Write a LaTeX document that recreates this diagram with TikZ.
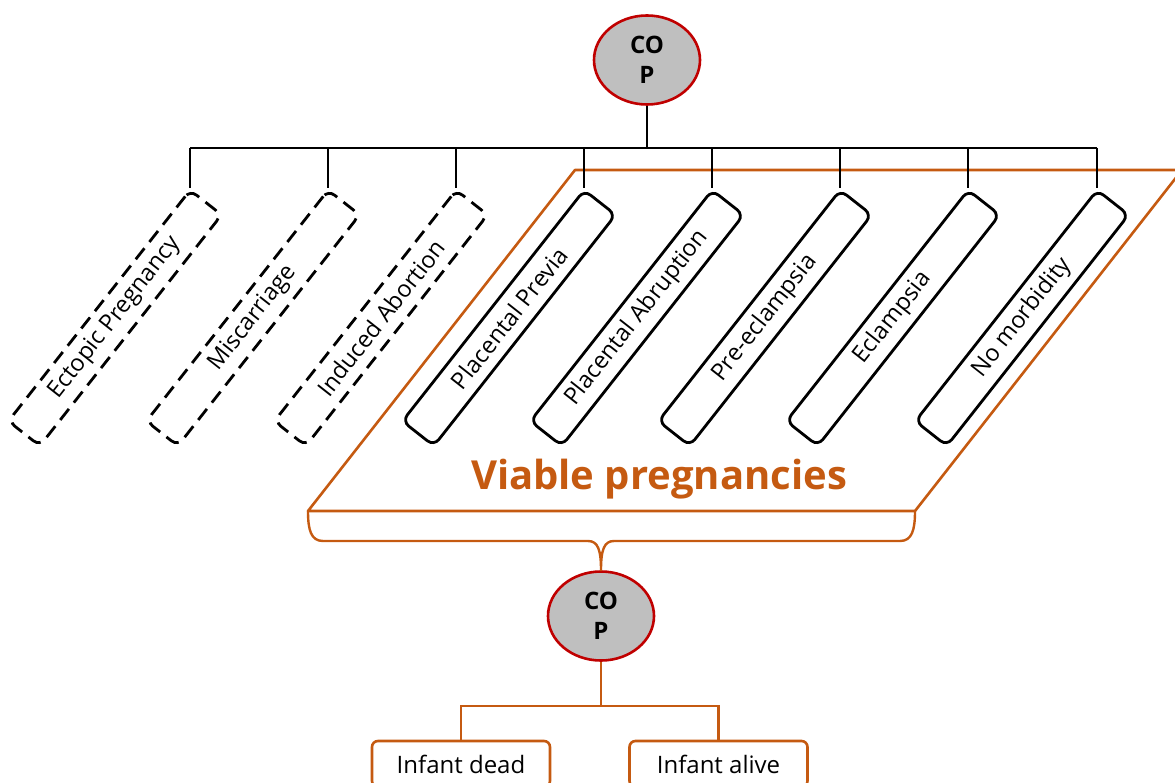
\documentclass[tikz,border=0pt]{standalone}
\usepackage{fontspec}
\setmainfont{Open Sans}
\usetikzlibrary{shapes.geometric}
\definecolor{copred}{HTML}{C00000}
\definecolor{copgray}{HTML}{BFBFBF}
\definecolor{vorange}{HTML}{C55A11}
\begin{document}
\begin{tikzpicture}[x=1pt,y=-1pt,
  cop/.style={ellipse, draw=copred, line width=2.6pt, fill=copgray, minimum width=106pt, minimum height=89pt, inner sep=0pt, font=\fontsize{24}{30}\selectfont\bfseries, align=center},
  catbox/.style={rectangle, draw=black, rounded corners=8pt, line width=2.8pt, minimum width=294pt, minimum height=40pt, rotate=51.8, font=\fontsize{23.5}{26}\selectfont, inner sep=0pt},
  dashbox/.style={catbox, dash pattern=on 14pt off 8pt},
  blk/.style={draw=black, line width=2.8pt},
  org/.style={draw=vorange, line width=2.6pt},
  outbox/.style={rectangle, draw=vorange, line width=2.6pt, rounded corners=6pt, minimum width=178pt, minimum height=46pt, font=\fontsize{24}{26}\selectfont, inner sep=0pt}
]
\useasboundingbox (0,0) rectangle (1175,783);
\clip (0,0) rectangle (1175,783);
% viable pregnancies parallelogram
\coordinate (pTL) at (575,170);
\coordinate (pTR) at (1182,170);
\coordinate (pBR) at (915,511);
\coordinate (pBL) at (308,511);
\draw[org, line join=round] (pTL) -- (pTR) -- (pBR) -- (pBL) -- cycle;
\node[text=vorange, font=\fontsize{40}{42}\selectfont\bfseries, anchor=base] (viable) at (659,489) {Viable pregnancies};
% top COP
\node[cop] (cop1) at (647,60) {CO\\P};
\coordinate (bus) at (647,148);
% category boxes
\node[dashbox] (b1) at (115,318) {Ectopic Pregnancy};
\node[dashbox] (b2) at (253,318) {Miscarriage};
\node[dashbox] (b3) at (381,318) {Induced Abortion};
\node[catbox] (b4) at (509,318) {Placental Previa};
\node[catbox] (b5) at (637,318) {Placental Abruption};
\node[catbox] (b6) at (765,318) {Pre-eclampsia};
\node[catbox] (b7) at (893,318) {Eclampsia};
\node[catbox] (b8) at (1022,318) {No morbidity};
\draw[blk] (cop1.south) -- (bus);
\draw[blk] (b1.north east |- bus) -- (b8.north east |- bus);
\foreach \b in {b1,b2,b3,b4,b5,b6,b7,b8}{
  \draw[blk] (\b.north east |- bus) -- (\b.north east);
}
% bottom COP
\node[cop] (cop2) at (601,616) {CO\\P};
% brace
\draw[vorange, line width=2.4pt, line join=round]
  (pBL) .. controls (308,530) and (311,541) .. (323,541)
  -- (588,541) .. controls (598,541) and (601,550) .. (cop2.north)
  .. controls (601,550) and (604,541) .. (614,541)
  -- (900,541) .. controls (912,541) and (915,530) .. (pBR);
% outcome boxes
\node[outbox] (dead) at (461,764) {Infant dead};
\node[outbox] (alive) at (718.5,764) {Infant alive};
\coordinate (hb) at (601,706);
\draw[org] (cop2.south) -- (hb);
\draw[org] (dead.north) |- (hb) -| (alive.north);
\end{tikzpicture}
\end{document}
